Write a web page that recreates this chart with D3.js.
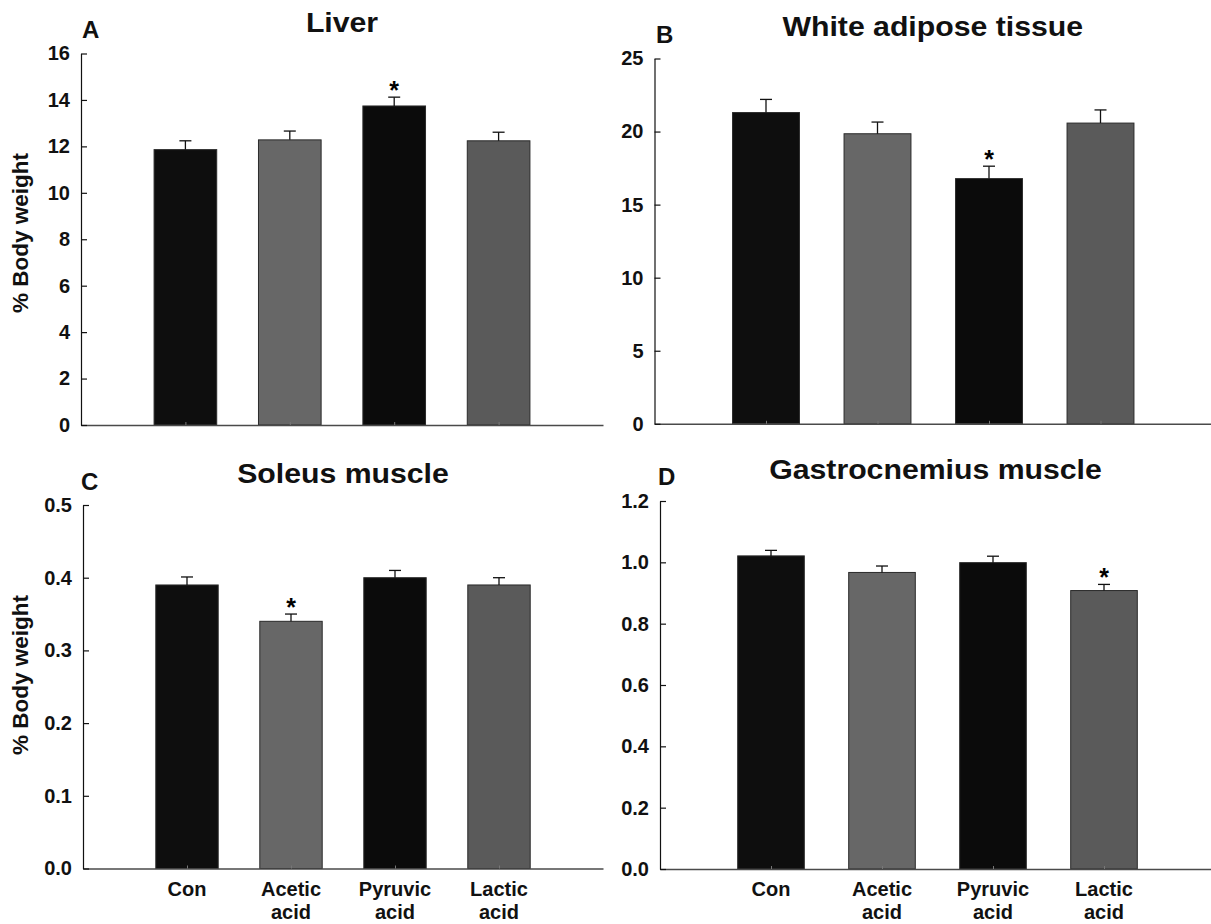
<!DOCTYPE html>
<html>
<head>
<meta charset="utf-8">
<script src="https://cdn.jsdelivr.net/npm/d3@7"></script>
<style>
  body { margin: 0; background: #fff; }
  svg { display: block; font-family: "Liberation Sans", Arial, sans-serif; font-weight: bold; }
</style>
</head>
<body>
<svg id="chart" width="1211" height="924"></svg>
<script>
// groups on the x axis
const categories = ["Con", "Acetic acid", "Pyruvic acid", "Lactic acid"];
const barColors = ["#0e0e0e", "#676767", "#0b0b0b", "#5a5a5a"];

// % body weight, mean and SE
const liverMean = [11.86, 12.28, 13.74, 12.24];
const liverSE = [0.38, 0.38, 0.38, 0.37];
const liverSig = [false, false, true, false];
const liverTicks = [0, 2, 4, 6, 8, 10, 12, 14, 16];

const watMean = [21.3, 19.85, 16.78, 20.58];
const watSE = [0.9, 0.8, 0.85, 0.9];
const watSig = [false, false, true, false];
const watTicks = [0, 5, 10, 15, 20, 25];

const soleusMean = [0.39, 0.34, 0.40, 0.39];
const soleusSE = [0.011, 0.010, 0.010, 0.010];
const soleusSig = [false, true, false, false];
const soleusTicks = [0, 0.1, 0.2, 0.3, 0.4, 0.5];

const gastroMean = [1.021, 0.967, 0.999, 0.908];
const gastroSE = [0.018, 0.021, 0.021, 0.020];
const gastroSig = [false, false, false, true];
const gastroTicks = [0, 0.2, 0.4, 0.6, 0.8, 1.0, 1.2];

function init() {
    const svg = d3.select("#chart");

    panel(svg, {
        letter: "A", title: "Liver", mean: liverMean, se: liverSE, sig: liverSig,
        ticks: liverTicks, fmt: d3.format("d"),
        x0: 81, x1: 603, yTop: 53.5, yZero: 425,
        titleY: 31.7, letterX: 82, letterY: 38.3, yLabelY: 233, xLabels: false
    });
    panel(svg, {
        letter: "B", title: "White adipose tissue", mean: watMean, se: watSE, sig: watSig,
        ticks: watTicks, fmt: d3.format("d"),
        x0: 654.5, x1: 1212, yTop: 58.5, yZero: 423.8,
        titleY: 36, letterX: 656, letterY: 43.3, yLabelY: null, xLabels: false
    });
    panel(svg, {
        letter: "C", title: "Soleus muscle", mean: soleusMean, se: soleusSE, sig: soleusSig,
        ticks: soleusTicks, fmt: d3.format(".1f"),
        x0: 83, x1: 603, yTop: 505, yZero: 868.5,
        titleY: 483, letterX: 81, letterY: 490, yLabelY: 675, xLabels: true
    });
    panel(svg, {
        letter: "D", title: "Gastrocnemius muscle", mean: gastroMean, se: gastroSE, sig: gastroSig,
        ticks: gastroTicks, fmt: d3.format(".1f"),
        x0: 660, x1: 1215, yTop: 501, yZero: 869,
        titleY: 479.3, letterX: 658, letterY: 485, yLabelY: null, xLabels: true
    });
}

function panel(svg, p) {
    const g = svg.append("g");

    // slot 0 and 5 are the empty ends of the axis, bars sit at 1..4
    const x = d3.scaleLinear().domain([0, 5]).range([p.x0, p.x1]);
    const y = d3.scaleLinear()
        .domain([0, d3.max(p.ticks)])
        .range([p.yZero, p.yTop]);
    const bw = 0.6 * (x(1) - x(0));

    // bars
    g.selectAll(".bar")
        .data(p.mean)
        .join("rect")
        .attr("class", "bar")
        .attr("x", (d, i) => x(i + 1) - bw / 2)
        .attr("y", d => y(d))
        .attr("width", bw)
        .attr("height", d => y(0) - y(d))
        .attr("fill", (d, i) => barColors[i])
        .attr("stroke", "#2a2a2a")
        .attr("stroke-width", 1);

    // error bars (upper half only)
    const err = g.selectAll(".err")
        .data(p.mean)
        .join("g")
        .attr("class", "err")
        .attr("stroke", "#111")
        .attr("stroke-width", 1.3);
    err.append("line")
        .attr("x1", (d, i) => x(i + 1))
        .attr("x2", (d, i) => x(i + 1))
        .attr("y1", d => y(d))
        .attr("y2", (d, i) => y(d + p.se[i]));
    err.append("line")
        .attr("x1", (d, i) => x(i + 1) - 6)
        .attr("x2", (d, i) => x(i + 1) + 6)
        .attr("y1", (d, i) => y(d + p.se[i]))
        .attr("y2", (d, i) => y(d + p.se[i]));

    // significance stars
    g.selectAll(".star")
        .data(p.mean.map((d, i) => ({ v: d + p.se[i], i: i })).filter(d => p.sig[d.i]))
        .join("text")
        .attr("class", "star")
        .attr("x", d => x(d.i + 1))
        .attr("y", d => y(d.v) + 2)
        .attr("text-anchor", "middle")
        .attr("font-size", "25px")
        .text("*");

    // x axis: plain line with tiny ticks under the bars
    const xAxis = g.append("g")
        .attr("transform", "translate(0," + p.yZero + ")")
        .call(d3.axisBottom(x).tickValues([1, 2, 3, 4]).tickSizeInner(-3).tickSizeOuter(0).tickFormat(""));
    xAxis.select(".domain").attr("stroke", "#4a4a4a").attr("stroke-width", 1.6);
    xAxis.selectAll(".tick line").attr("stroke", "#777");

    // y axis, ticks pointing inward
    const yAxis = g.append("g")
        .attr("transform", "translate(" + p.x0 + ",0)")
        .call(d3.axisLeft(y).tickValues(p.ticks).tickFormat(p.fmt)
            .tickSizeInner(-6).tickSizeOuter(0).tickPadding(11));
    yAxis.select(".domain").attr("stroke", "#111").attr("stroke-width", 1.2);
    yAxis.selectAll(".tick line").attr("stroke", "#111").attr("stroke-width", 1.2);
    yAxis.selectAll(".tick text")
        .attr("font-size", "20px")
        .attr("font-family", "'Liberation Sans', Arial, sans-serif")
        .attr("font-weight", "bold")
        .attr("fill", "#111");

    // title, stretched a little like the original
    const tx = (p.x0 + Math.min(p.x1, 1211)) / 2;
    g.append("text")
        .attr("transform", "translate(" + tx + "," + p.titleY + ") scale(1.08,1)")
        .attr("text-anchor", "middle")
        .attr("font-size", "28px")
        .attr("fill", "#111")
        .text(p.title);

    // panel letter
    g.append("text")
        .attr("x", p.letterX)
        .attr("y", p.letterY)
        .attr("font-size", "24px")
        .attr("fill", "#111")
        .text(p.letter);

    if (p.yLabelY !== null) {
        g.append("text")
            .attr("transform", "translate(28," + p.yLabelY + ") rotate(-90)")
            .attr("text-anchor", "middle")
            .attr("font-size", "22.5px")
            .attr("fill", "#111")
            .text("% Body weight");
    }

    if (p.xLabels) {
        const lab = g.selectAll(".cat")
            .data(categories)
            .join("text")
            .attr("class", "cat")
            .attr("text-anchor", "middle")
            .attr("font-size", "20px")
            .attr("fill", "#111");
        lab.each(function (d, i) {
            const words = d.split(" ");
            words.forEach((w, k) => {
                d3.select(this).append("tspan")
                    .attr("x", x(i + 1))
                    .attr("y", p.yZero + 27 + k * 23)
                    .text(w);
            });
        });
    }
}

window.onload = init;
</script>
</body>
</html>
